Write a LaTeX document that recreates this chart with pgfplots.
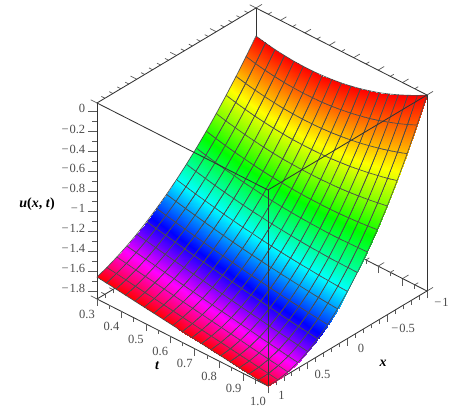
\documentclass[border=0pt]{standalone}
\usepackage{fontspec}
\setmainfont{Liberation Serif}
\usepackage{pgfplots}
\pgfplotsset{compat=1.18}
\begin{document}
\begin{tikzpicture}
\begin{axis}[
  x={(-79.5pt,-47.5pt)},
  y={(244.3pt,-124.3pt)},
  z={(0pt,99.8pt)},
  xmin=-1, xmax=1, ymin=0.3, ymax=1, zmin=-1.877, zmax=0.087,
  axis lines=box,
  3d box=complete,
  clip=false,
  font=\fontsize{12.5}{13}\selectfont,
  axis line style={black!80, line width=0.85pt},
  tick style={black!65, line width=0.7pt},
  major tick length=7pt,
  minor tick length=4pt,
  tick align=outside,
  tick pos=left,
  xtick={-1,-0.5,0,0.5,1},
  xticklabels={−\kern1pt 1,−\kern1pt 0.5,0,0.5,1},
  minor x tick num=4,
  ytick={0.3,0.4,0.5,0.6,0.7,0.8,0.9,1.0},
  yticklabels={0.3,0.4,0.5,0.6,0.7,0.8,0.9,1.0},
  minor y tick num=1,
  ztick={-1.8,-1.6,-1.4,-1.2,-1,-0.8,-0.6,-0.4,-0.2,0},
  zticklabels={−\kern1pt 1.8,−\kern1pt 1.6,−\kern1pt 1.4,−\kern1pt 1.2,−\kern1pt 1,−\kern1pt 0.8,−\kern1pt 0.6,−\kern1pt 0.4,−\kern1pt 0.2,0},
  z tick style={draw=none},
  ticklabel style={text=black!70},
  xticklabel style={xshift=2pt,yshift=2pt},
  yticklabel style={xshift=2pt,yshift=-1pt},
  zticklabel style={xshift=-2pt},
  colormap={hue}{rgb255(0)=(255,0,0) rgb255(1)=(255,255,0) rgb255(2)=(0,255,0) rgb255(3)=(0,255,255) rgb255(4)=(0,0,255) rgb255(5)=(255,0,255) rgb255(6)=(255,0,0)},
]
\addplot3[surf, mesh/rows=19, mesh/cols=17, shader=faceted interp, faceted color=black!70, line width=0.65pt, point meta=x] coordinates {
(1,.3,-1.657) (.875,.3,-1.620) (.75,.3,-1.575) (.625,.3,-1.524) (.5,.3,-1.465) (.375,.3,-1.399) (.25,.3,-1.325) (.125,.3,-1.245) (0,.3,-1.157) (-.125,.3,-1.062) (-.25,.3,-.960) (-.375,.3,-.850) (-.5,.3,-.733) (-.625,.3,-.609) (-.75,.3,-.478) (-.875,.3,-.340) (-1,.3,-.194)

(1,.339,-1.669) (.875,.339,-1.634) (.75,.339,-1.592) (.625,.339,-1.541) (.5,.339,-1.484) (.375,.339,-1.419) (.25,.339,-1.347) (.125,.339,-1.267) (0,.339,-1.180) (-.125,.339,-1.085) (-.25,.339,-.983) (-.375,.339,-.874) (-.5,.339,-.757) (-.625,.339,-.633) (-.75,.339,-.501) (-.875,.339,-.362) (-1,.339,-.215)

(1,.378,-1.681) (.875,.378,-1.648) (.75,.378,-1.608) (.625,.378,-1.559) (.5,.378,-1.503) (.375,.378,-1.439) (.25,.378,-1.368) (.125,.378,-1.289) (0,.378,-1.202) (-.125,.378,-1.107) (-.25,.378,-1.005) (-.375,.378,-.896) (-.5,.378,-.778) (-.625,.378,-.653) (-.75,.378,-.520) (-.875,.378,-.380) (-1,.378,-.232)

(1,.417,-1.694) (.875,.417,-1.663) (.75,.417,-1.624) (.625,.417,-1.577) (.5,.417,-1.522) (.375,.417,-1.459) (.25,.417,-1.388) (.125,.417,-1.309) (0,.417,-1.223) (-.125,.417,-1.128) (-.25,.417,-1.026) (-.375,.417,-.915) (-.5,.417,-.797) (-.625,.417,-.671) (-.75,.417,-.536) (-.875,.417,-.394) (-1,.417,-.244)

(1,.456,-1.706) (.875,.456,-1.677) (.75,.456,-1.639) (.625,.456,-1.594) (.5,.456,-1.540) (.375,.456,-1.478) (.25,.456,-1.408) (.125,.456,-1.329) (0,.456,-1.242) (-.125,.456,-1.147) (-.25,.456,-1.044) (-.375,.456,-.933) (-.5,.456,-.813) (-.625,.456,-.685) (-.75,.456,-.549) (-.875,.456,-.405) (-1,.456,-.253)

(1,.494,-1.718) (.875,.494,-1.691) (.75,.494,-1.655) (.625,.494,-1.611) (.5,.494,-1.558) (.375,.494,-1.497) (.25,.494,-1.427) (.125,.494,-1.348) (0,.494,-1.261) (-.125,.494,-1.165) (-.25,.494,-1.061) (-.375,.494,-.948) (-.5,.494,-.827) (-.625,.494,-.697) (-.75,.494,-.559) (-.875,.494,-.412) (-1,.494,-.256)

(1,.533,-1.730) (.875,.533,-1.705) (.75,.533,-1.671) (.625,.533,-1.628) (.5,.533,-1.576) (.375,.533,-1.515) (.25,.533,-1.445) (.125,.533,-1.366) (0,.533,-1.279) (-.125,.533,-1.182) (-.25,.533,-1.076) (-.375,.533,-.962) (-.5,.533,-.839) (-.625,.533,-.706) (-.75,.533,-.565) (-.875,.533,-.415) (-1,.533,-.256)

(1,.572,-1.743) (.875,.572,-1.719) (.75,.572,-1.687) (.625,.572,-1.645) (.5,.572,-1.593) (.375,.572,-1.533) (.25,.572,-1.463) (.125,.572,-1.384) (0,.572,-1.295) (-.125,.572,-1.197) (-.25,.572,-1.090) (-.375,.572,-.974) (-.5,.572,-.848) (-.625,.572,-.713) (-.75,.572,-.568) (-.875,.572,-.414) (-1,.572,-.251)

(1,.611,-1.755) (.875,.611,-1.733) (.75,.611,-1.702) (.625,.611,-1.661) (.5,.611,-1.611) (.375,.611,-1.550) (.25,.611,-1.480) (.125,.611,-1.400) (0,.611,-1.310) (-.125,.611,-1.211) (-.25,.611,-1.102) (-.375,.611,-.983) (-.5,.611,-.854) (-.625,.611,-.716) (-.75,.611,-.568) (-.875,.611,-.410) (-1,.611,-.242)

(1,.65,-1.767) (.875,.65,-1.748) (.75,.65,-1.718) (.625,.65,-1.678) (.5,.65,-1.628) (.375,.65,-1.567) (.25,.65,-1.497) (.125,.65,-1.416) (0,.65,-1.325) (-.125,.65,-1.224) (-.25,.65,-1.112) (-.375,.65,-.990) (-.5,.65,-.858) (-.625,.65,-.716) (-.75,.65,-.564) (-.875,.65,-.401) (-1,.65,-.229)

(1,.689,-1.779) (.875,.689,-1.762) (.75,.689,-1.733) (.625,.689,-1.694) (.5,.689,-1.644) (.375,.689,-1.584) (.25,.689,-1.513) (.125,.689,-1.431) (0,.689,-1.338) (-.125,.689,-1.235) (-.25,.689,-1.120) (-.375,.689,-.996) (-.5,.689,-.860) (-.625,.689,-.714) (-.75,.689,-.557) (-.875,.689,-.389) (-1,.689,-.211)

(1,.728,-1.791) (.875,.728,-1.776) (.75,.728,-1.749) (.625,.728,-1.710) (.5,.728,-1.661) (.375,.728,-1.600) (.25,.728,-1.528) (.125,.728,-1.445) (0,.728,-1.350) (-.125,.728,-1.244) (-.25,.728,-1.127) (-.375,.728,-.999) (-.5,.728,-.859) (-.625,.728,-.709) (-.75,.728,-.546) (-.875,.728,-.373) (-1,.728,-.189)

(1,.767,-1.804) (.875,.767,-1.790) (.75,.767,-1.764) (.625,.767,-1.726) (.5,.767,-1.677) (.375,.767,-1.616) (.25,.767,-1.543) (.125,.767,-1.458) (0,.767,-1.361) (-.125,.767,-1.253) (-.25,.767,-1.132) (-.375,.767,-1.000) (-.5,.767,-.856) (-.625,.767,-.700) (-.75,.767,-.533) (-.875,.767,-.353) (-1,.767,-.162)

(1,.806,-1.816) (.875,.806,-1.804) (.75,.806,-1.779) (.625,.806,-1.742) (.5,.806,-1.693) (.375,.806,-1.631) (.25,.806,-1.557) (.125,.806,-1.470) (0,.806,-1.371) (-.125,.806,-1.260) (-.25,.806,-1.136) (-.375,.806,-1.000) (-.5,.806,-.851) (-.625,.806,-.690) (-.75,.806,-.516) (-.875,.806,-.330) (-1,.806,-.132)

(1,.844,-1.828) (.875,.844,-1.818) (.75,.844,-1.795) (.625,.844,-1.758) (.5,.844,-1.709) (.375,.844,-1.646) (.25,.844,-1.571) (.125,.844,-1.482) (0,.844,-1.380) (-.125,.844,-1.265) (-.25,.844,-1.138) (-.375,.844,-.997) (-.5,.844,-.843) (-.625,.844,-.676) (-.75,.844,-.496) (-.875,.844,-.303) (-1,.844,-.097)

(1,.883,-1.840) (.875,.883,-1.832) (.75,.883,-1.810) (.625,.883,-1.774) (.5,.883,-1.724) (.375,.883,-1.661) (.25,.883,-1.583) (.125,.883,-1.493) (0,.883,-1.388) (-.125,.883,-1.270) (-.25,.883,-1.138) (-.375,.883,-.992) (-.5,.883,-.832) (-.625,.883,-.659) (-.75,.883,-.472) (-.875,.883,-.271) (-1,.883,-.057)

(1,.922,-1.853) (.875,.922,-1.846) (.75,.922,-1.825) (.625,.922,-1.789) (.5,.922,-1.739) (.375,.922,-1.675) (.25,.922,-1.596) (.125,.922,-1.503) (0,.922,-1.395) (-.125,.922,-1.273) (-.25,.922,-1.136) (-.375,.922,-.985) (-.5,.922,-.820) (-.625,.922,-.640) (-.75,.922,-.445) (-.875,.922,-.237) (-1,.922,-.013)

(1,.961,-1.865) (.875,.961,-1.860) (.75,.961,-1.840) (.625,.961,-1.805) (.5,.961,-1.754) (.375,.961,-1.688) (.25,.961,-1.608) (.125,.961,-1.512) (0,.961,-1.401) (-.125,.961,-1.274) (-.25,.961,-1.133) (-.375,.961,-.976) (-.5,.961,-.804) (-.625,.961,-.618) (-.75,.961,-.415) (-.875,.961,-.198) (-1,.961,.034)

(1,1,-1.877) (.875,1,-1.874) (.75,1,-1.855) (.625,1,-1.820) (.5,1,-1.769) (.375,1,-1.702) (.25,1,-1.619) (.125,1,-1.520) (0,1,-1.405) (-.125,1,-1.274) (-.25,1,-1.128) (-.375,1,-.965) (-.5,1,-.787) (-.625,1,-.592) (-.75,1,-.382) (-.875,1,-.155) (-1,1,.087)
};
\pgfplotsinvokeforeach{-1.8,-1.6,-1.4,-1.2,-1,-0.8,-0.6,-0.4,-0.2,0}{
  \draw[black!65, line width=0.7pt] (axis cs:1,0.3,#1) -- ++(-9pt,0pt);
}
\pgfplotsinvokeforeach{-1.7,-1.5,-1.3,-1.1,-0.9,-0.7,-0.5,-0.3,-0.1}{
  \draw[black!65, line width=0.7pt] (axis cs:1,0.3,#1) -- ++(-5pt,0pt);
}
\coordinate (o) at (axis cs:-1,1,-1.877);
\end{axis}
% page size: reference pixel frame, measured from the bottom right box corner
\path (o) ++(-427pt,291pt) coordinate (tl);
\path (o) ++(34pt,-115pt) coordinate (br);
\path (tl) rectangle (br);
\node[font=\fontsize{14}{14}\selectfont\bfseries] at ([xshift=37pt,yshift=-204pt]tl) {\textit{u}(\textit{x}, \textit{t})};
\node[font=\fontsize{14}{14}\selectfont\bfseries\itshape] at ([xshift=157pt,yshift=-366pt]tl) {t};
\node[font=\fontsize{14}{14}\selectfont\bfseries\itshape] at ([xshift=383pt,yshift=-363pt]tl) {x};
\end{tikzpicture}
\end{document}
